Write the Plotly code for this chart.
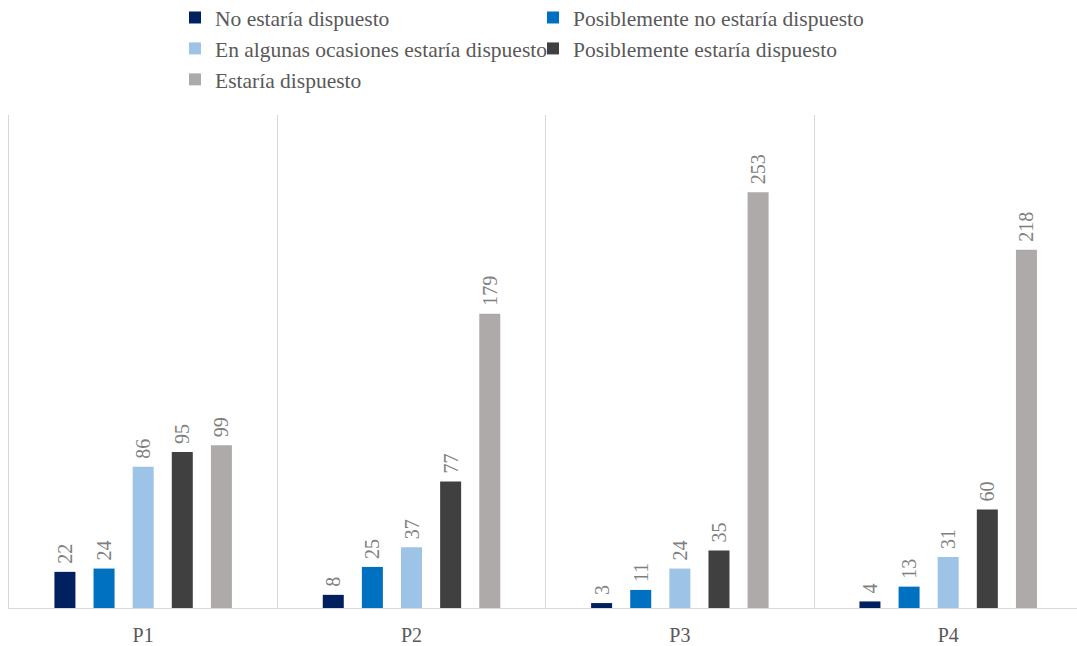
import plotly.graph_objects as go

categories = ["P1", "P2", "P3", "P4"]

series_names = [
    "No estaría dispuesto",
    "Posiblemente no estaría dispuesto",
    "En algunas ocasiones estaría dispuesto",
    "Posiblemente estaría dispuesto",
    "Estaría dispuesto",
]

no_dispuesto = [22, 8, 3, 4]
posible_no = [24, 25, 11, 13]
algunas_ocasiones = [86, 37, 24, 31]
posible_si = [95, 77, 35, 60]
dispuesto = [99, 179, 253, 218]

series_values = [no_dispuesto, posible_no, algunas_ocasiones, posible_si, dispuesto]
series_colors = ["#002060", "#0070C0", "#9DC3E6", "#404040", "#AEAAAA"]

FONT = "Liberation Serif"

fig = go.Figure()
for name, vals, color in zip(series_names, series_values, series_colors):
    fig.add_trace(go.Bar(
        name=name,
        x=categories,
        y=vals,
        marker=dict(color=color, line=dict(width=0)),
        # a non-breaking space pads the rotated label away from the bar end
        text=["\u00a0" + str(v) for v in vals],
        textposition="outside",
        textangle=-90,
        constraintext="none",
        textfont=dict(family=FONT, size=20, color="#7F7F7F"),
        cliponaxis=False,
    ))

fig.update_layout(
    template="none",
    width=1077,
    height=646,
    margin=dict(l=9, r=0, t=115, b=38, autoexpand=False),
    paper_bgcolor="white",
    plot_bgcolor="white",
    barmode="group",
    bargap=0.271,
    bargroupgap=0.463,
    font=dict(family=FONT, size=20, color="#595959"),
    legend=dict(
        orientation="h",
        x=(175 - 9) / 1068,
        xanchor="left",
        y=1 + 118 / 493,
        yanchor="top",
        entrywidth=313,
        font=dict(family=FONT, size=21.5, color="#595959"),
        bgcolor="rgba(0,0,0,0)",
    ),
    xaxis=dict(
        range=[-0.5, 3.48],
        tickson="boundaries",
        showgrid=True,
        gridcolor="#D9D9D9",
        gridwidth=1,
        showline=True,
        linecolor="#D9D9D9",
        linewidth=1,
        ticks="",
        ticklabelstandoff=9,
        tickfont=dict(family=FONT, size=20, color="#595959"),
        fixedrange=True,
    ),
    yaxis=dict(
        range=[0, 300],
        showgrid=False,
        zeroline=False,
        showline=True,
        linecolor="#D9D9D9",
        linewidth=1,
        showticklabels=False,
        ticks="",
        fixedrange=True,
    ),
)

fig.write_html("out.html")
